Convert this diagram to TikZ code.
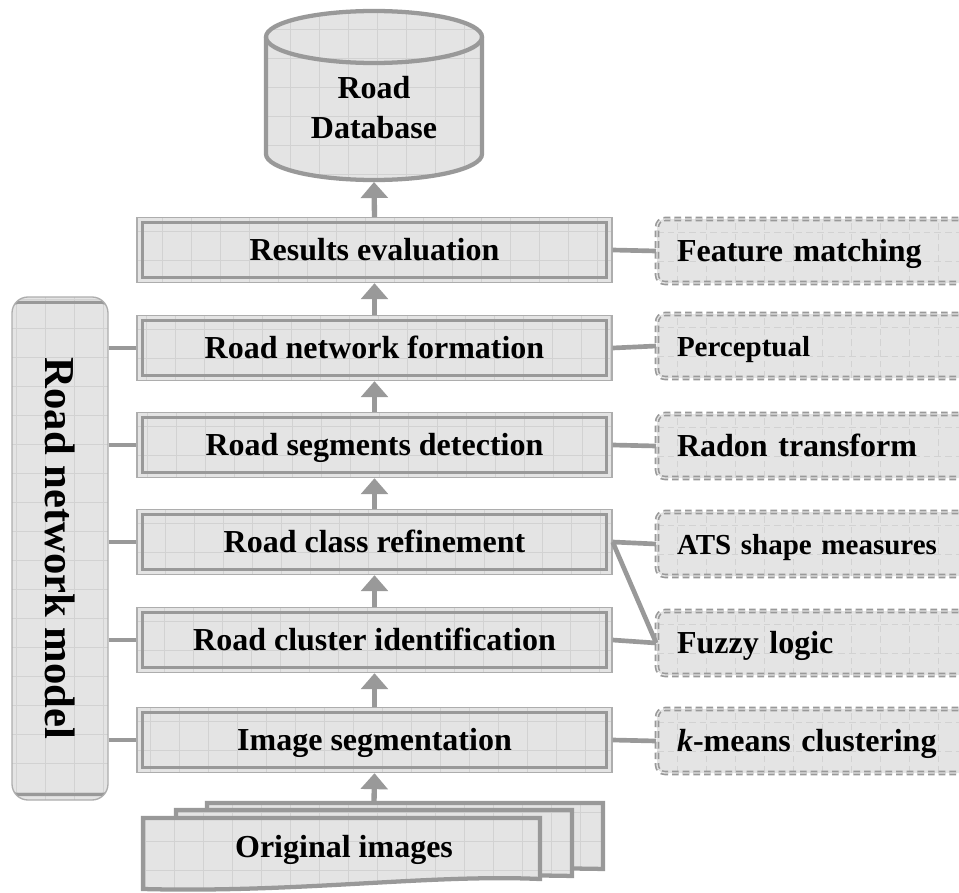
\documentclass[tikz,border=0pt]{standalone}
\usepackage{fontspec}
\setmainfont{Liberation Serif}
\usetikzlibrary{arrows.meta}
\definecolor{boxfill}{HTML}{E4E4E4}
\definecolor{gridc}{HTML}{D2D2D2}
\definecolor{lc}{HTML}{999999}
\definecolor{lc2}{HTML}{ADADAD}
\begin{document}
\begin{tikzpicture}[x=0.75pt,y=-0.75pt,
  gridded/.style={path picture={\draw[gridc,line width=0.6pt,step=21.75pt] (path picture bounding box.south west) grid (path picture bounding box.north east);}},
  mainbox/.style={draw=lc2, line width=1pt, fill=boxfill, minimum width=356.25pt, minimum height=48.75pt, inner sep=0pt,
    text height=16pt, text depth=0pt,
    font=\fontsize{24}{28}\selectfont\bfseries,
    path picture={\draw[gridc,line width=0.6pt,step=21.75pt] (path picture bounding box.south west) grid (path picture bounding box.north east);
      \draw[lc,line width=2.2pt] ([xshift=4pt,yshift=-4pt]path picture bounding box.north west) rectangle ([xshift=-4pt,yshift=4pt]path picture bounding box.south east);}},
  altbox/.style={draw=lc, dash pattern=on 5pt off 3pt, line width=1.2pt, double=boxfill, double distance=1pt, fill=boxfill,
    rounded corners=6pt, minimum height=48pt, text width=210pt, inner xsep=15pt, align=left,
    text height=16pt, text depth=0pt,
    font=\fontsize{24}{28}\selectfont\bfseries, gridded},
  lmbox/.style={draw=lc2, line width=1pt, fill=boxfill, rounded corners=12pt, minimum width=377.25pt, minimum height=72pt, inner sep=0pt,
    font=\fontsize{32}{36}\selectfont\bfseries,
    path picture={\draw[gridc,line width=0.6pt,step=21.75pt] (path picture bounding box.south west) grid (path picture bounding box.north east);
      \draw[lc,line width=2.2pt,rounded corners=9pt] ([xshift=4pt,yshift=-4pt]path picture bounding box.north west) rectangle ([xshift=-4pt,yshift=4pt]path picture bounding box.south east);}},
  docshape/.style={fill=boxfill, draw=lc, line width=3.2pt, line join=miter, gridded},
  arr/.style={draw=lc, line width=4pt, -{Triangle[width=20pt,length=12pt]}},
  conn/.style={draw=lc, line width=3.5pt},
  lbl/.style={font=\fontsize{24}{30}\selectfont\bfseries, align=center}
]
\useasboundingbox (0,0) rectangle (959,892);
\clip (0,0) rectangle (959,892);

% database cylinder
\path[fill=boxfill, draw=lc, line width=3.2pt, gridded]
  (266,37) -- (266,154) arc[start angle=180,end angle=360,x radius=81pt,y radius=19.5pt]
  -- (482,37) arc[start angle=0,end angle=180,x radius=81pt,y radius=19.5pt] -- cycle;
\draw[lc, line width=3.2pt] (266,37) arc[start angle=180,end angle=360,x radius=81pt,y radius=19.5pt];
\node[lbl] (db) at (374,108) {Road\\Database};
\coordinate (dbb) at (374,182);

% main boxes
\node[mainbox] (res)  at (374.5,250) {Results evaluation};
\node[mainbox] (form) at (374.5,348) {Road network formation};
\node[mainbox] (segd) at (374.5,445) {Road segments detection};
\node[mainbox] (ref)  at (374.5,542) {Road class refinement};
\node[mainbox] (clu)  at (374.5,640) {Road cluster identification};
\node[mainbox] (seg)  at (374.5,740) {Image segmentation};

% method boxes
\node[altbox] (feat)  at (817,251) {Feature matching};
\node[altbox, font=\fontsize{21.75}{26}\selectfont\bfseries] (perc) at (817,346) {Perceptual};
\node[altbox] (radon) at (817,446) {Radon transform};
\node[altbox, font=\fontsize{21.75}{26}\selectfont\bfseries] (ats) at (817,544) {ATS shape measures};
\node[altbox] (fuzzy) at (817,643) {Fuzzy logic};
\node[altbox] (kmeans) at (817,741) {\textit{k}-means clustering};

% left model box
\node[lmbox, rotate=-90] (lm) at (60,548.5) {Road network model};

% original images stack
\path[docshape] (207,803) -- (603,803) -- (603,869) .. controls (500,866) and (360,880) .. (207,876) -- cycle;
\path[docshape] (176,810) -- (572,810) -- (572,876) .. controls (470,873) and (330,887) .. (176,883) -- cycle;
\path[docshape] (143,818) -- (540,818) -- (540,879) .. controls (430,874) and (300,893) .. (143,889) -- cycle;
\node[lbl] (orig) at (344,850) {Original images};
\coordinate (origtop) at (374,803);

% arrows
\draw[arr] (origtop) -- (seg.south);
\draw[arr] (seg.north) -- (clu.south);
\draw[arr] (clu.north) -- (ref.south);
\draw[arr] (ref.north) -- (segd.south);
\draw[arr] (segd.north) -- (form.south);
\draw[arr] (form.north) -- (res.south);
\draw[arr] (res.north) -- (dbb);

% right connectors
\draw[conn] (res.east) -- (feat.west);
\draw[conn] (form.east) -- (perc.west);
\draw[conn] (segd.east) -- (radon.west);
\draw[conn] (ref.east) -- (ats.west);
\draw[conn] (ref.east) -- (fuzzy.west);
\draw[conn] (clu.east) -- (fuzzy.west);
\draw[conn] (seg.east) -- (kmeans.west);

% left connectors
\draw[conn] (lm.north |- form.west) -- (form.west);
\draw[conn] (lm.north |- segd.west) -- (segd.west);
\draw[conn] (lm.north |- ref.west) -- (ref.west);
\draw[conn] (lm.north |- clu.west) -- (clu.west);
\draw[conn] (lm.north |- seg.west) -- (seg.west);
\end{tikzpicture}
\end{document}
